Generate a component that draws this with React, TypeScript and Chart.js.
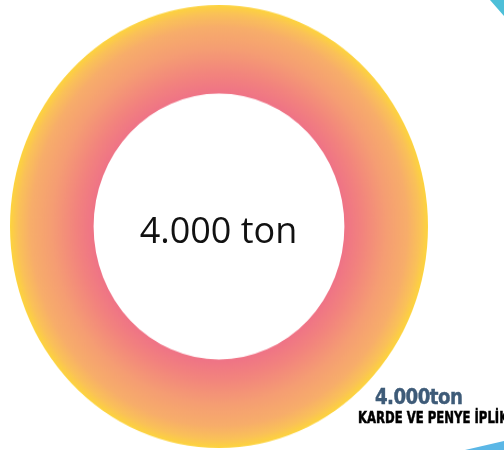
import React, { useEffect, useRef } from "react";
import { Chart, registerables } from "chart.js";

Chart.register(...registerables);

const categories = ["KARDE VE PENYE İPLİK"];
const values = [4000];
const unit = "ton";
const gradientStops: [number, string][] = [
  [0, "#EF7386"],
  [0.2, "#F2827E"],
  [0.5, "#F59D73"],
  [0.75, "#F7AD6A"],
  [0.9, "#FAC158"],
  [1, "#FDD43D"],
];

function fmt(n: number): string {
  return String(n).replace(/\B(?=(\d{3})+(?!\d))/g, ".");
}

const CUTOUT = 0.6;

export default function App() {
  const ref = useRef<HTMLCanvasElement | null>(null);

  useEffect(() => {
    const canvas = ref.current;
    if (!canvas) return;
    const chart = new Chart(canvas, {
      type: "doughnut",
      data: {
        labels: categories,
        datasets: [
          {
            data: values,
            borderWidth: 0,
            hoverOffset: 0,
            offset: 0,
            backgroundColor: (ctx: any) => {
              const c = ctx.chart;
              const area = c.chartArea;
              if (!area) return gradientStops[0][1];
              const cx = (area.left + area.right) / 2;
              const cy = (area.top + area.bottom) / 2;
              const R = Math.min(area.right - area.left, area.bottom - area.top) / 2;
              const g = c.ctx.createRadialGradient(cx, cy, R * CUTOUT, cx, cy, R);
              gradientStops.forEach(([p, col]) => g.addColorStop(p, col));
              return g;
            },
          },
        ],
      },
      options: {
        responsive: false,
        maintainAspectRatio: false,
        devicePixelRatio: 1,
        animation: false,
        events: [],
        cutout: `${CUTOUT * 100}%`,
        layout: { padding: 0 },
        plugins: {
          legend: { display: false },
          tooltip: { enabled: false },
        },
      },
    });
    return () => chart.destroy();
  }, []);

  return (
    <div
      style={{
        position: "absolute",
        left: 0,
        top: 0,
        width: 504,
        height: 450,
        overflow: "hidden",
        background: "#ffffff",
      }}
    >
      <canvas
        ref={ref}
        width={418}
        height={418}
        style={{ position: "absolute", left: 10, top: 5, width: "418px", height: "443px" }}
      />
      <div
        style={{
          position: "absolute",
          left: 0,
          width: 437,
          top: 212,
          textAlign: "center",
          fontFamily: "'Open Sans', 'Noto Sans', sans-serif",
          fontSize: 36,
          lineHeight: "36px",
          color: "#111111",
          whiteSpace: "nowrap",
        }}
      >
        {`${fmt(values[0])} ${unit}`}
      </div>
      <div
        style={{
          position: "absolute",
          left: 375,
          top: 386,
          fontFamily: "'DejaVu Sans Condensed', 'DejaVu Sans', sans-serif",
          fontWeight: 700,
          fontSize: 22,
          lineHeight: "22px",
          color: "#3E5B78",
          whiteSpace: "nowrap",
          letterSpacing: "-0.6px",
          transform: "scaleX(0.92)",
          transformOrigin: "0 0",
          WebkitTextStroke: "0.4px #3E5B78",
        }}
      >
        {`${fmt(values[0])}${unit}`}
      </div>
      <div
        style={{
          position: "absolute",
          left: 358,
          top: 410,
          fontFamily: "'DejaVu Sans Condensed', 'DejaVu Sans', sans-serif",
          fontWeight: 700,
          fontSize: 16,
          lineHeight: "16px",
          color: "#000000",
          whiteSpace: "nowrap",
          transform: "scaleX(0.81)",
          transformOrigin: "0 0",
          WebkitTextStroke: "0.5px #000",
        }}
      >
        {categories[0]}
      </div>
      <div
        style={{
          position: "absolute",
          left: 0,
          top: 0,
          width: 504,
          height: 450,
          background: "#4DBFD8",
          clipPath: "polygon(490px 0px, 504px 0px, 504px 16px)",
        }}
      />
      <div
        style={{
          position: "absolute",
          left: 0,
          top: 0,
          width: 504,
          height: 450,
          background: "#5BB7E6",
          clipPath: "polygon(465px 450px, 504px 441px, 504px 450px)",
        }}
      />
    </div>
  );
}
